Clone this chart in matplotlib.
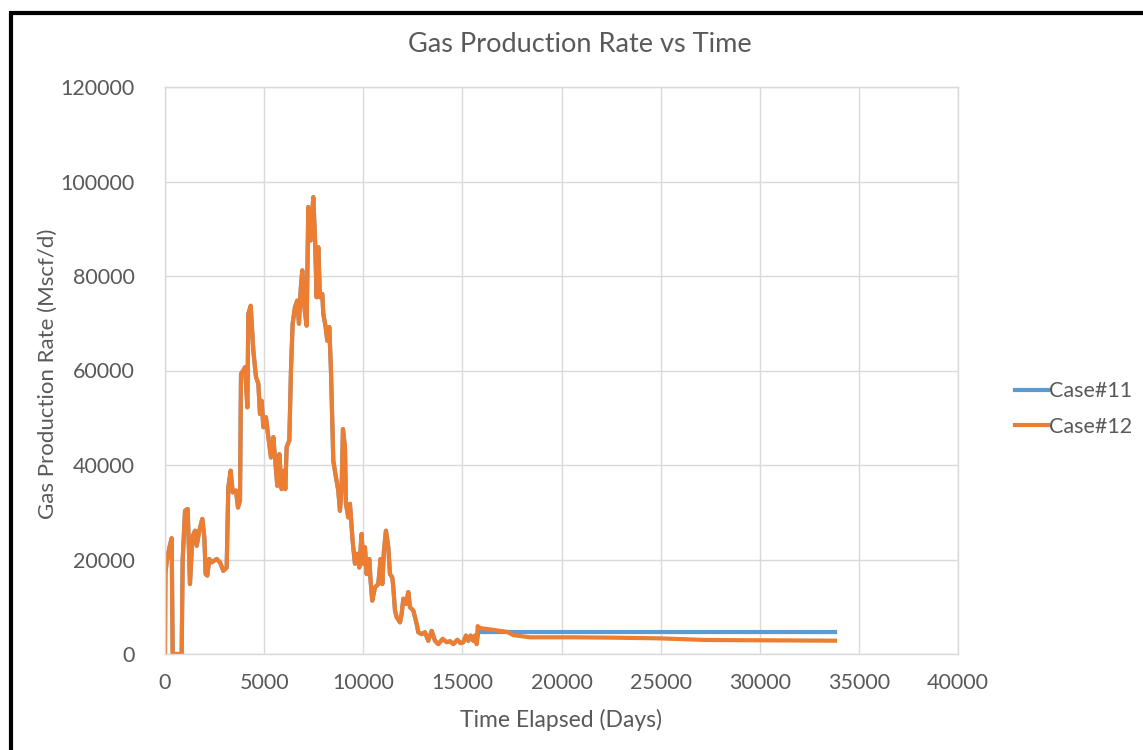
import numpy as np
import matplotlib.pyplot as plt
from matplotlib.patches import Rectangle

# shared history (both cases identical up to ~15800 days)
days_history = [0, 20, 84, 220, 336, 387, 840, 890, 1010, 1143, 1260, 1380, 1513, 1597, 1731,
                1883, 1984, 2051, 2135, 2236, 2353, 2605, 2774, 2942, 3110, 3194, 3312, 3413,
                3581, 3682, 3783, 3834, 3951, 4036, 4154, 4204, 4322, 4456, 4590, 4708, 4792,
                4876, 4960, 5094, 5212, 5346, 5463, 5547, 5665, 5766, 5884, 6001, 6068, 6136,
                6270, 6354, 6438, 6556, 6673, 6757, 6841, 6925, 7009, 7144, 7228, 7346, 7480,
                7564, 7648, 7732, 7816, 7934, 7985, 8102, 8186, 8287, 8371, 8455, 8489, 8623,
                8741, 8825, 8909, 8976, 9077, 9127, 9245, 9329, 9463, 9581, 9698, 9799, 9917,
                10001, 10085, 10170, 10304, 10371, 10455, 10590, 10758, 10875, 10960, 11044,
                11145, 11262, 11349, 11464, 11517, 11601, 11685, 11853, 11937, 12021, 12156,
                12273, 12357, 12525, 12610, 12694, 12778, 12946, 13114, 13282, 13450, 13618,
                13786, 14005, 14206, 14375, 14543, 14744, 14912, 15047, 15181, 15299, 15417,
                15551, 15635, 15719]
rate_history = [0, 17000, 19500, 22500, 24500, 0, 0, 19800, 30300, 30700, 14800, 24700, 26100,
                22900, 26100, 28600, 24700, 16900, 16600, 20100, 19400, 20100, 19400, 17600,
                18300, 35300, 38800, 34200, 34600, 31000, 32500, 59300, 60000, 60700, 52200,
                72000, 73700, 64200, 58600, 57200, 50800, 53600, 48000, 50100, 45900, 41600,
                45900, 41600, 35600, 42300, 34900, 38800, 34900, 43800, 45200, 60000, 69900,
                73400, 74800, 69900, 76900, 81200, 74100, 69500, 94600, 87500, 96700, 88200,
                75500, 86100, 75500, 76200, 72000, 69200, 66300, 69200, 60000, 45900, 40900,
                37400, 34600, 30300, 35300, 47600, 43800, 31800, 28900, 31800, 24000, 19100,
                21200, 18300, 25400, 19100, 22600, 16900, 20100, 15500, 11300, 14100, 14800,
                20100, 14800, 21900, 26100, 22600, 16900, 16200, 14100, 9200, 7800, 6700, 8500,
                11700, 10600, 13100, 9900, 9200, 7800, 6400, 4600, 4200, 4600, 2800, 4900, 2800,
                2100, 3200, 2500, 2700, 2100, 3000, 2300, 2500, 3900, 2800, 3900, 2800, 3900,
                2100]

# after history
days_case11_tail = [15805, 33796]
rate_case11_tail = [4650, 4650]
days_case12_tail = [15770, 15890, 17235, 17570, 18411, 20597, 22613, 24968, 27323, 30686, 33796]
rate_case12_tail = [5900, 5500, 4700, 3990, 3530, 3530, 3460, 3310, 2960, 2890, 2820]

blue = '#5B9BD5'
orange = '#ED7D31'
grey_text = '#595959'
grid_col = '#D9D9D9'

plt.rcParams['font.family'] = ['Lato', 'DejaVu Sans']

fig = plt.figure(figsize=(11.43, 7.5), dpi=100)
ax = fig.add_axes([165/1143, 1-654/750, (958-165)/1143, (654-87)/750])

d11 = days_history + days_case11_tail
r11 = rate_history + rate_case11_tail
d12 = days_history + days_case12_tail
r12 = rate_history + rate_case12_tail

ax.plot(d11, r11, color=blue, linewidth=3.0, solid_joinstyle='round', label='Case#11')
ax.plot(d12, r12, color=orange, linewidth=3.0, solid_joinstyle='round', label='Case#12')

ax.set_xlim(0, 40000)
ax.set_ylim(0, 120000)
ax.set_xticks(np.arange(0, 40001, 5000))
ax.set_yticks(np.arange(0, 120001, 20000))
ax.grid(True, color=grid_col, linewidth=1)
ax.set_axisbelow(True)
for s in ax.spines.values():
    s.set_color(grid_col)
    s.set_linewidth(1)
ax.tick_params(length=0, labelsize=15.5, labelcolor=grey_text)
ax.tick_params(axis='y', pad=22)
ax.tick_params(axis='x', pad=14)

fig.text(580/1143, 1-45/750, 'Gas Production Rate vs Time', ha='center', va='center',
         fontsize=19.5, color=grey_text)
fig.text(48/1143, 1-374/750, 'Gas Production Rate (Mscf/d)', ha='center', va='center',
         rotation=90, fontsize=16, color=grey_text)
fig.text(561/1143, 1-720/750, 'Time Elapsed (Days)', ha='center', va='center',
         fontsize=16.5, color=grey_text)

fig.legend(loc='center left', bbox_to_anchor=(996/1143, 1-409/750), frameon=False,
           fontsize=15.5, handlelength=1.5, handletextpad=0.05, labelspacing=0.7,
           labelcolor=grey_text)

# black frame around the chart (cut at right/bottom)
fig.patches.append(Rectangle((10.5/1143, -0.05), 1.2, 1 - 12.5/750 + 0.05,
                             transform=fig.transFigure, fill=False, edgecolor='black',
                             linewidth=3, clip_on=False))

fig.savefig('out.png', dpi=100)
